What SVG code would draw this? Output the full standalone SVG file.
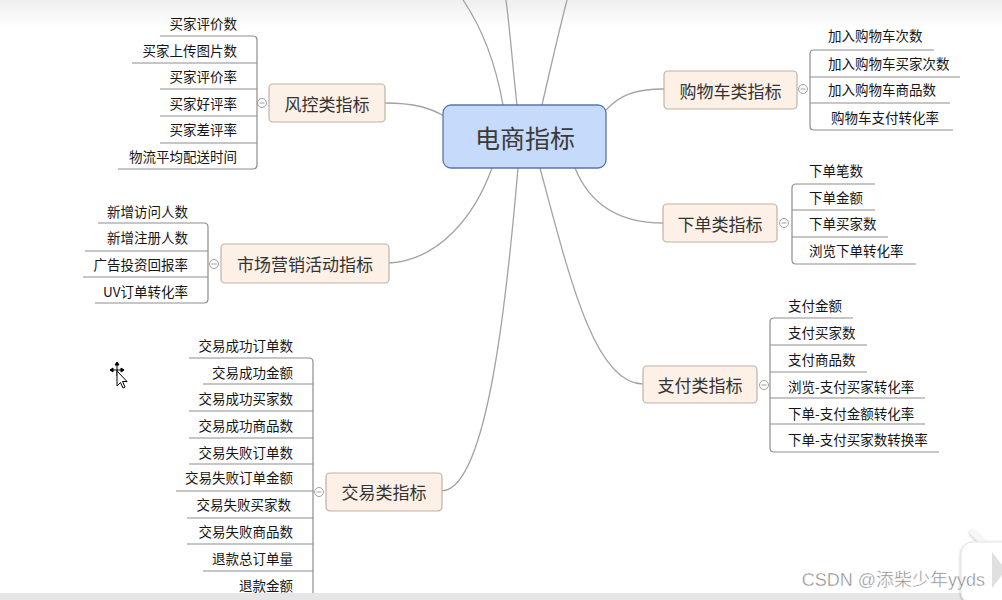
<svg xmlns="http://www.w3.org/2000/svg" width="1002" height="600" viewBox="0 0 1002 600">
<defs>
<linearGradient id="topfade" x1="0" y1="0" x2="0" y2="1">
<stop offset="0" stop-color="#efefef"/>
<stop offset="1" stop-color="#ffffff"/>
</linearGradient>
<filter id="soft" x="-20%" y="-20%" width="140%" height="140%">
<feDropShadow dx="0" dy="1" stdDeviation="1.5" flood-color="#000" flood-opacity="0.3"/>
</filter>
</defs>
<style>
text{font-family:"Noto Sans CJK SC","Liberation Sans",sans-serif;dominant-baseline:central}
.conn{fill:none;stroke:#a3a3a3;stroke-width:1.3}
.br{fill:none;stroke:#8e8e8e;stroke-width:1.2}
.cat rect{fill:#fdf1e7;stroke:#bfb2a6;stroke-width:1.2}
.cat text{font-size:17px;fill:#333;text-anchor:middle}
.leaf{font-size:13.5px;fill:#151515}
.l{text-anchor:end}
.tog circle{fill:#fff;stroke:#a0a0a0;stroke-width:1}
.tog path{stroke:#a0a0a0;stroke-width:1}
</style>
<rect x="0" y="0" width="1002" height="600" fill="#ffffff"/>
<rect x="0" y="0" width="1002" height="28" fill="url(#topfade)"/>

<g id="connectors">
<path class="conn" d="M503,105 C495,60 480,25 463,0"/>
<path class="conn" d="M517,105 C513,70 510,30 506,0"/>
<path class="conn" d="M542,105 C550,70 558,35 567,0"/>
<path class="conn" d="M385,103 C415,103 430,108 444,116"/>
<path class="conn" d="M606,110 C620,95 635,89 664,89"/>
<path class="conn" d="M575,168 C590,205 620,223 663,223"/>
<path class="conn" d="M540,168 C570,280 595,384 643,384"/>
<path class="conn" d="M389,263 C440,260 475,215 492,168"/>
<path class="conn" d="M518,168 C505,320 485,491 441,491"/>
</g>

<g id="center">
<rect x="443" y="105" width="163" height="63" rx="8" fill="#c6dbfb" stroke="#5876a8" stroke-width="1.3"/>
<text x="525" y="137" font-size="25" fill="#3a3a3a" text-anchor="middle">电商指标</text>
</g>

<g id="fengkong" class="cat">
<rect x="269" y="84" width="116" height="38" rx="4"/>
<text x="327" y="103">风控类指标</text>
</g>
<g id="fengkong-toggle" class="tog"><circle cx="262" cy="103" r="4.5"/><path d="M259.5,103 H264.5"/></g>
<g id="fengkong-leaves">
<path class="br" d="M160,36 H253 Q257,36 257,40 V165 Q257,169 253,169 H118"/>
<path class="br" d="M132,63 H257 M160,89 H257 M160,116 H257 M160,143 H257"/>
<text class="leaf l" x="237" y="23">买家评价数</text>
<text class="leaf l" x="237" y="50">买家上传图片数</text>
<text class="leaf l" x="237" y="76">买家评价率</text>
<text class="leaf l" x="237" y="103">买家好评率</text>
<text class="leaf l" x="237" y="129">买家差评率</text>
<text class="leaf l" x="237" y="156">物流平均配送时间</text>
</g>

<g id="gouwuche" class="cat">
<rect x="664" y="71" width="133" height="38" rx="4"/>
<text x="730.5" y="90">购物车类指标</text>
</g>
<g id="gouwuche-toggle" class="tog"><circle cx="803" cy="89" r="4.5"/><path d="M800.5,89 H805.5"/></g>
<g id="gouwuche-leaves">
<path class="br" d="M934,50 H814 Q810,50 810,54 V126 Q810,130 814,130 H953"/>
<path class="br" d="M810,77 H960 M810,103 H950"/>
<text class="leaf" x="828" y="35">加入购物车次数</text>
<text class="leaf" x="828" y="63">加入购物车买家次数</text>
<text class="leaf" x="828" y="89">加入购物车商品数</text>
<text class="leaf" x="831" y="117">购物车支付转化率</text>
</g>

<g id="xiadan" class="cat">
<rect x="663" y="204" width="114" height="38" rx="4"/>
<text x="720" y="223">下单类指标</text>
</g>
<g id="xiadan-toggle" class="tog"><circle cx="784" cy="223" r="4.5"/><path d="M781.5,223 H786.5"/></g>
<g id="xiadan-leaves">
<path class="br" d="M875,184 H796 Q792,184 792,188 V260 Q792,264 796,264 H916"/>
<path class="br" d="M792,210 H875 M792,237 H888"/>
<text class="leaf" x="809" y="170">下单笔数</text>
<text class="leaf" x="809" y="197">下单金额</text>
<text class="leaf" x="809" y="223">下单买家数</text>
<text class="leaf" x="809" y="250">浏览下单转化率</text>
</g>

<g id="zhifu" class="cat">
<rect x="643" y="366" width="114" height="37" rx="4"/>
<text x="700" y="384">支付类指标</text>
</g>
<g id="zhifu-toggle" class="tog"><circle cx="764" cy="385" r="4.5"/><path d="M761.5,385 H766.5"/></g>
<g id="zhifu-leaves">
<path class="br" d="M853,318 H774 Q770,318 770,322 V448 Q770,452 774,452 H939"/>
<path class="br" d="M770,345 H867 M770,372 H867 M770,398 H925 M770,424 H925"/>
<text class="leaf" x="788" y="305">支付金额</text>
<text class="leaf" x="788" y="332">支付买家数</text>
<text class="leaf" x="788" y="359">支付商品数</text>
<text class="leaf" x="788" y="386">浏览-支付买家转化率</text>
<text class="leaf" x="788" y="413">下单-支付金额转化率</text>
<text class="leaf" x="788" y="439">下单-支付买家数转换率</text>
</g>

<g id="shichang" class="cat">
<rect x="221" y="244" width="168" height="39" rx="4"/>
<text x="305" y="263">市场营销活动指标</text>
</g>
<g id="shichang-toggle" class="tog"><circle cx="214" cy="264" r="4.5"/><path d="M211.5,264 H216.5"/></g>
<g id="shichang-leaves">
<path class="br" d="M98,223 H204 Q208,223 208,227 V299 Q208,303 204,303 H95"/>
<path class="br" d="M85,251 H208 M83,277 H208"/>
<text class="leaf l" x="188" y="211">新增访问人数</text>
<text class="leaf l" x="188" y="237">新增注册人数</text>
<text class="leaf l" x="188" y="264">广告投资回报率</text>
<text class="leaf l" x="188" y="291">UV订单转化率</text>
</g>

<g id="jiaoyi" class="cat">
<rect x="326" y="473" width="116" height="38" rx="4"/>
<text x="384" y="491">交易类指标</text>
</g>
<g id="jiaoyi-toggle" class="tog"><circle cx="319" cy="492" r="4.5"/><path d="M316.5,492 H321.5"/></g>
<g id="jiaoyi-leaves">
<path class="br" d="M189,358 H309 Q313,358 313,362 V600"/>
<path class="br" d="M203,384 H313 M189,411 H313 M189,438 H313 M189,464 H313 M176,491 H313 M187,518 H313 M187,544 H313 M203,571 H313"/>
<text class="leaf l" x="293" y="345">交易成功订单数</text>
<text class="leaf l" x="293" y="372">交易成功金额</text>
<text class="leaf l" x="293" y="398">交易成功买家数</text>
<text class="leaf l" x="293" y="425">交易成功商品数</text>
<text class="leaf l" x="293" y="452">交易失败订单数</text>
<text class="leaf l" x="293" y="477">交易失败订单金额</text>
<text class="leaf l" x="291" y="504">交易失败买家数</text>
<text class="leaf l" x="293" y="531">交易失败商品数</text>
<text class="leaf l" x="293" y="558">退款总订单量</text>
<text class="leaf l" x="293" y="585">退款金额</text>
</g>

<g id="cursor" stroke="#000" stroke-width="1" fill="#fff">
<path d="M117,363 V376 M110,370 H124" fill="none"/>
<path d="M117,362 L115,365 H119 Z M110,370 L113,368 V372 Z M124,370 L121,368 V372 Z" fill="#000"/>
<path d="M117,371 L117,386 L120.5,382.5 L123,388 L125,387 L122.5,381.5 L127,381.5 Z"/>
</g>

<rect x="0" y="593" width="1002" height="7" fill="#e6e6e6"/>

<g id="watermark-icon" filter="url(#soft)">
<path d="M972,532 L984,544" stroke="#f6f6f6" stroke-width="5" stroke-linecap="round"/>
<rect x="961" y="542" width="60" height="62" rx="12" fill="#ffffff" stroke="#e4e4e4" stroke-width="1"/>
<path d="M992,552 L1006,570 L992,588 Z" fill="#e0e0e0"/>
</g>
<text x="985" y="580" font-size="18" fill="#8a8a8a" text-anchor="end" stroke="#ffffff" stroke-width="0.4" style="font-family:'Liberation Sans','Noto Sans CJK SC',sans-serif">CSDN @添柴少年yyds</text>
</svg>
